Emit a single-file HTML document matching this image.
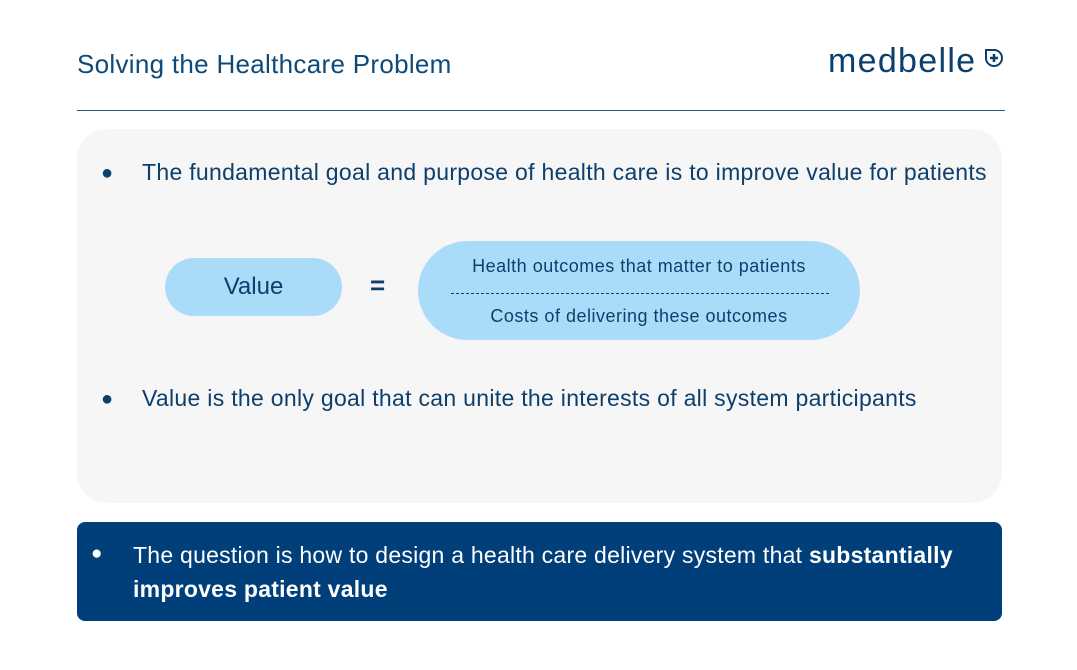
<!DOCTYPE html>
<html><head><meta charset="utf-8"><style>
body{margin:0;width:1077px;height:670px;background:#fff;font-family:"Liberation Sans",sans-serif;position:relative;overflow:hidden}
.a{position:absolute;white-space:nowrap}
</style></head><body>
<div class="a" style="left:77px;top:49px;font-size:26px;letter-spacing:0.3px;color:#0d4a7a">Solving the Healthcare Problem</div>
<div class="a" style="left:828px;top:42px;font-size:34px;color:#0d3f6c;letter-spacing:1.3px">medbelle</div>
<svg class="a" style="left:984px;top:48px" width="20" height="20" viewBox="0 0 20 20"><path d="M10 2 A8 8 0 1 1 2 10 L2 2 Z" fill="none" stroke="#0d3f6c" stroke-width="2"/><path d="M10 6v8M6 10h8" stroke="#0d3f6c" stroke-width="2.5"/></svg>
<div class="a" style="left:77px;top:110px;width:928px;height:1px;background:#2b5a7a"></div>
<div class="a" style="left:77px;top:129px;width:925px;height:374px;background:#f6f6f6;border-radius:30px"></div>
<div class="a" style="left:101px;top:162px;font-size:20px;color:#0d3f6c">●</div>
<div class="a" style="left:142px;top:159px;font-size:23px;color:#0d3f6c;letter-spacing:0.3px">The fundamental goal and purpose of health care is to improve value for patients</div>
<div class="a" style="left:165px;top:258px;width:177px;height:58px;background:#aadcfa;border-radius:29px;text-align:center;line-height:58px;font-size:24px;color:#0d3f6c">Value</div>
<div class="a" style="left:370px;top:270px;font-size:26px;font-weight:bold;color:#0d3f6c">=</div>
<div class="a" style="left:418px;top:241px;width:442px;height:99px;background:#aadcfa;border-radius:50px;text-align:center;font-size:18px;letter-spacing:0.5px;color:#0d3f6c">
<div style="position:absolute;left:0;right:0;top:15px">Health outcomes that matter to patients</div>
<div style="position:absolute;left:33px;right:31px;top:52px;border-top:1px dashed #0d3f6c"></div>
<div style="position:absolute;left:0;right:0;top:65px">Costs of delivering these outcomes</div>
</div>
<div class="a" style="left:101px;top:388px;font-size:20px;color:#0d3f6c">●</div>
<div class="a" style="left:142px;top:385px;font-size:23px;color:#0d3f6c;letter-spacing:0.3px">Value is the only goal that can unite the interests of all system participants</div>
<div class="a" style="left:77px;top:522px;width:925px;height:99px;background:#003f7a;border-radius:8px"></div>
<div class="a" style="left:91px;top:543px;font-size:19px;color:#fff">●</div>
<div class="a" style="left:133px;top:538px;font-size:23px;letter-spacing:0.25px;color:#fff;line-height:34px">The question is how to design a health care delivery system that <b>substantially</b><br><b>improves patient value</b></div>
</body></html>
